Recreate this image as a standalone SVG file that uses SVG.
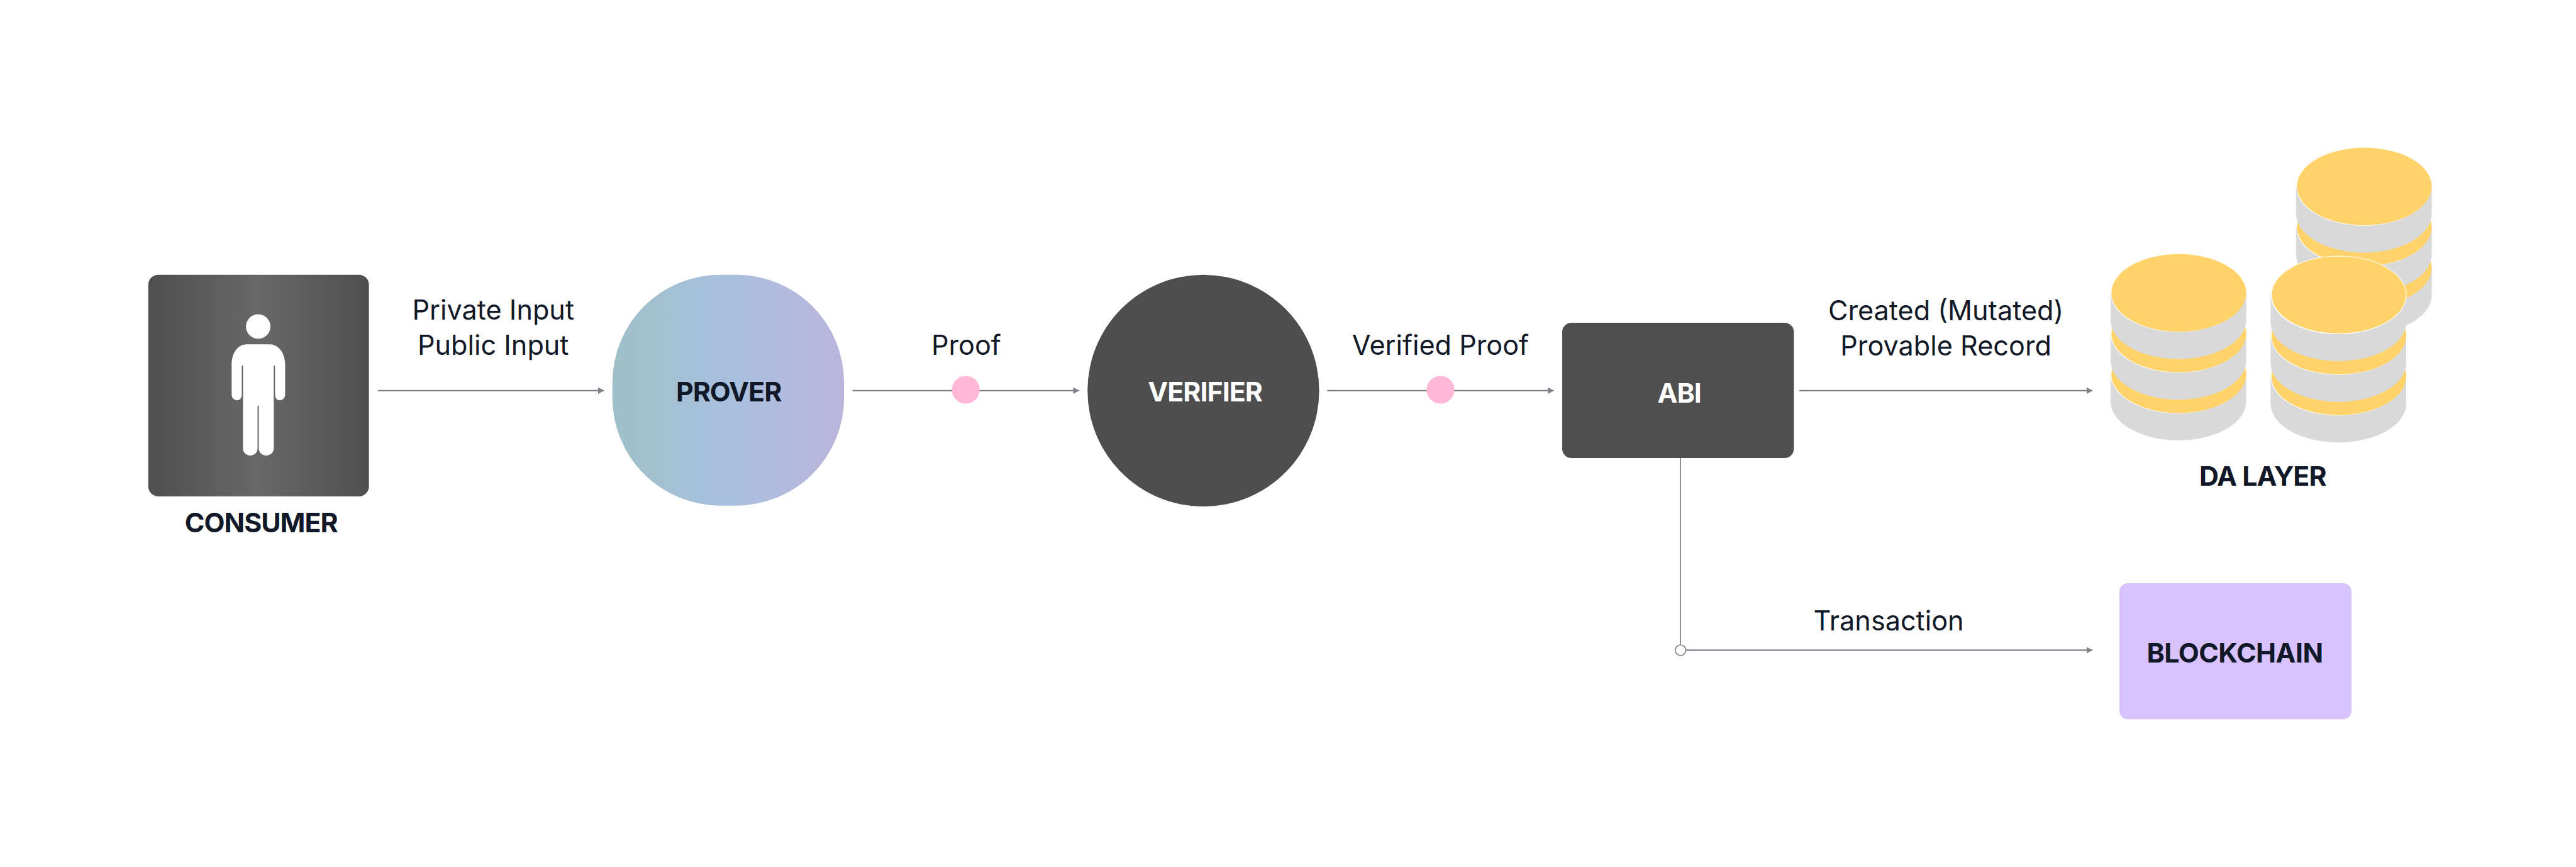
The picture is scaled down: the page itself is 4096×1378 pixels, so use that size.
<svg xmlns="http://www.w3.org/2000/svg" width="4096" height="1378" viewBox="0 0 4096 1378">
<style>
text{font-family:Inter,"Liberation Sans",sans-serif;text-anchor:middle}
.l{font-size:64.500px;font-weight:400;fill:#111827}
.b{font-size:64px;font-weight:700;fill:#111827;letter-spacing:-1.500px}
.w{fill:#fff}
.c{stroke:#808088;stroke-width:3.500;fill:none}
.g{fill:#d9d9d9}
.y{fill:#ffd369}
.p{fill:#ffb8d6}
</style>
<defs>
<linearGradient id="cg" x1="0" y1="0" x2="1" y2="0"><stop offset="0" stop-color="#4f4f4f"/><stop offset=".5" stop-color="#686868"/><stop offset="1" stop-color="#4f4f4f"/></linearGradient>
<linearGradient id="pg" x1="0" y1="0" x2="1" y2="0"><stop offset="0" stop-color="#9fc0c8"/><stop offset=".5" stop-color="#a9c0df"/><stop offset="1" stop-color="#bab5db"/></linearGradient>
<marker id="a" markerUnits="userSpaceOnUse" markerWidth="14" markerHeight="16" refX="14" refY="8" orient="auto"><path d="M0 0L14 8L0 16Z" fill="#808088"/></marker>
<g id="disc"><path class="g" d="M-162 0V65a161 92 0 0 0 322 0V0Z"/><ellipse cx="-1.500" cy="1" rx="160" ry="92" fill="#fff"/><ellipse class="y" cx="0" cy="0" rx="160" ry="92"/></g>
<g id="stack"><use href="#disc" y="193"/><use href="#disc" y="96.500"/><use href="#disc"/></g>
</defs>
<g transform="scale(.66972)">
<g id="connectors">
<path class="c" marker-end="url(#a)" d="M897 927H1434"/>
<path class="c" marker-end="url(#a)" d="M2024 927H2562"/>
<path class="c" marker-end="url(#a)" d="M3151 927H3689"/>
<path class="c" marker-end="url(#a)" d="M4272 927H4968"/>
<path class="c" d="M3990 1087V1530" style="stroke-width:2.500"/>
<path class="c" marker-end="url(#a)" d="M4003 1543H4968"/>
<circle cx="3990" cy="1543" r="12.500" fill="#fff" stroke="#808088" stroke-width="2.500"/>
<circle class="p" cx="2293" cy="925" r="33"/>
<circle class="p" cx="3420" cy="925" r="33"/>
</g>
<g id="consumer">
<rect x="352" y="652" width="524" height="526" rx="24" fill="url(#cg)"/>
<circle cx="613" cy="775" r="29" fill="#fff"/>
<path fill="#fff" d="M586 817H640C663 817 677 840 677 865V936C677 945 671 950 664 950C657 950 653 945 653 936V869a1.500 1.500 0 0 0-3 0V1064C650 1074 642 1081 632 1081C622 1081 614.500 1074 614.500 1064V964a1.500 1.500 0 0 0-3 0V1064C611.500 1074 604 1081 594 1081C584 1081 577 1074 577 1064V869a1.500 1.500 0 0 0-3 0V936C574 945 570 950 563 950C556 950 550 945 550 936V865C550 840 563 817 586 817Z"/>
<text class="b" x="620" y="1263">CONSUMER</text>
</g>
<g id="labels">
<text class="l" x="1171" y="758">Private Input</text>
<text class="l" x="1171" y="842">Public Input</text>
<text class="l" x="2294" y="842">Proof</text>
<text class="l" x="3420" y="842">Verified Proof</text>
<text class="l" x="4620" y="760">Created (Mutated)</text>
<text class="l" x="4620" y="843">Provable Record</text>
<text class="l" x="4484" y="1496">Transaction</text>
</g>
<g id="prover">
<rect x="1454" y="652" width="550" height="548" rx="256" fill="url(#pg)"/>
<text class="b" x="1730" y="953">PROVER</text>
</g>
<g id="verifier">
<circle cx="2857" cy="927" r="275" fill="#4e4e4e"/>
<text class="b w" x="2861" y="953">VERIFIER</text>
</g>
<g id="abi">
<rect x="3709" y="766" width="550" height="321" rx="22" fill="#4f4f4f"/>
<text class="b w" x="3987" y="956">ABI</text>
</g>
<g id="da-layer">
<use href="#stack" x="5613.500" y="442.500"/>
<use href="#stack" x="5173" y="695"/>
<use href="#stack" x="5553" y="700"/>
<ellipse cx="5553" cy="700" rx="160" ry="92" fill="none" stroke="#fff" stroke-opacity=".8" stroke-width="2"/>
<text class="b" x="5372" y="1152">DA LAYER</text>
</g>
<g id="blockchain">
<rect x="5032" y="1384" width="551" height="323" rx="20" fill="#d8c2ff"/>
<text class="b" style="letter-spacing:-.8px" x="5306" y="1573">BLOCKCHAIN</text>
</g>
</g>
</svg>
